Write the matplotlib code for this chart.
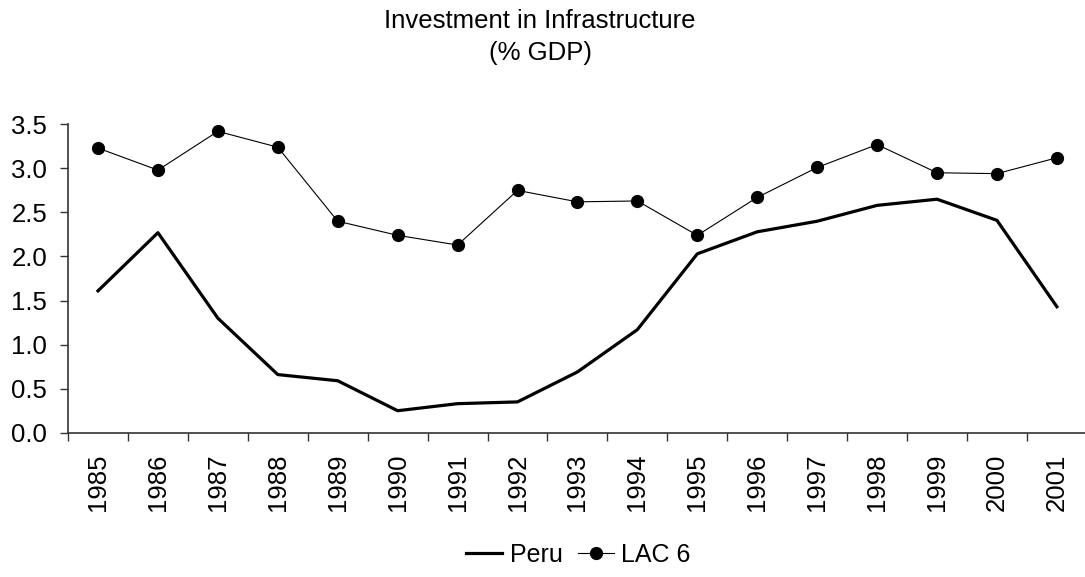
import matplotlib
matplotlib.use('Agg')
import matplotlib.pyplot as plt
from matplotlib.ticker import FixedLocator

plt.rcParams['font.family'] = ['Liberation Sans', 'DejaVu Sans']

# data (% of GDP)
years = ['1985', '1986', '1987', '1988', '1989', '1990', '1991', '1992', '1993',
         '1994', '1995', '1996', '1997', '1998', '1999', '2000', '2001']
peru = [1.61, 2.27, 1.30, 0.66, 0.59, 0.25, 0.33, 0.35, 0.69,
        1.17, 2.03, 2.28, 2.40, 2.58, 2.65, 2.41, 1.43]
lac6 = [3.23, 2.98, 3.42, 3.24, 2.40, 2.24, 2.13, 2.75, 2.62,
        2.63, 2.24, 2.67, 3.01, 3.27, 2.95, 2.94, 3.12]

fig = plt.figure(figsize=(10.85, 5.77), dpi=100)
ax = fig.add_axes([0.0627, 0.25, 0.939, 0.5346])

x = list(range(len(years)))
ax.plot(x, peru, color='black', linewidth=2.3, label='Peru')
ax.plot(x, lac6, color='black', linewidth=0.8, marker='o', markersize=8.5, label='LAC 6')

ax.set_xlim(-0.5, len(years) - 0.5)
ax.set_ylim(0, 3.5)
ax.set_yticks([0, 0.5, 1.0, 1.5, 2.0, 2.5, 3.0, 3.5])
ax.set_yticklabels(['%.1f' % v for v in ax.get_yticks()])

# labels in the middle of each category, tick marks on the boundaries
ax.set_xticks(x)
ax.set_xticklabels(years, rotation=90)
ax.tick_params(axis='x', which='major', length=0, pad=15)
ax.xaxis.set_minor_locator(FixedLocator([i - 0.5 for i in range(len(years) + 1)]))
ax.tick_params(axis='x', which='minor', length=6, width=1, color='#333333')
ax.tick_params(axis='y', length=6, width=1, color='#333333', pad=9)
ax.tick_params(labelsize=18.5)

for s in ['top', 'right']:
    ax.spines[s].set_visible(False)
for s in ['left', 'bottom']:
    ax.spines[s].set_color('#333333')
    ax.spines[s].set_linewidth(1.2)
ax.spines['bottom'].set_clip_on(False)

fig.text(0.4977, 0.985, 'Investment in Infrastructure\n(% GDP)', ha='center', va='top',
         fontsize=18.5, linespacing=1.45)

fig.legend(loc='center', bbox_to_anchor=(0.533, 0.038), ncol=2, frameon=False,
           fontsize=18, handlelength=1.45, handletextpad=0.3, columnspacing=0.6)

fig.savefig('out.png', dpi=100)
